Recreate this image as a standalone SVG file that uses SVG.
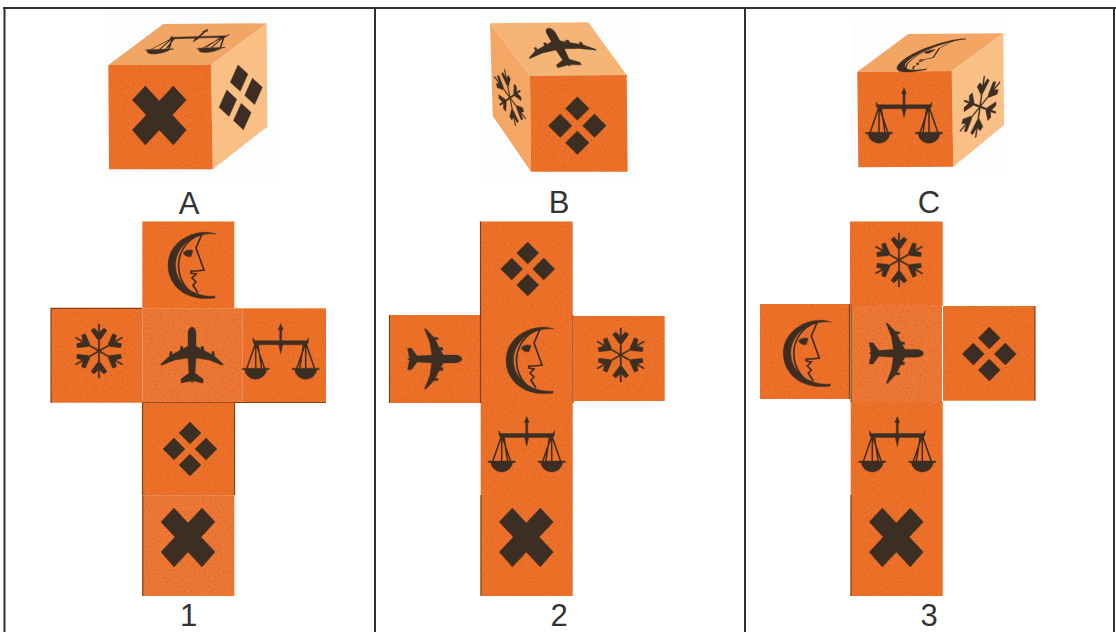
<svg xmlns="http://www.w3.org/2000/svg" width="1116" height="632" viewBox="0 0 1116 632">
<style>
.rule{stroke:#2f2f33;stroke-width:2;fill:none}
.face{fill:#ee742a;filter:url(#grain)}
.face2{fill:#ee7c38;filter:url(#grain)}
.edge{stroke:#7d4314;stroke-width:1.200;fill:none}
.glyph{fill:#3c2e22;stroke:#3c2e22;stroke-width:.4}
.line{fill:none;stroke:#3c2e22}
.pale{fill:#fbfdfe}
.lab{font-family:"Liberation Sans",Arial,sans-serif;font-size:31px;fill:#333;text-anchor:middle}
</style>
<defs>
<filter id="grain" x="0" y="0" width="1" height="1" color-interpolation-filters="sRGB">
<feTurbulence type="fractalNoise" baseFrequency=".7" numOctaves="2" seed="4" result="n"/>
<feColorMatrix in="n" type="matrix" values="0 0 0 0 .87  0 0 0 0 .36  0 0 0 0 .12  1.800 0 0 0 -.72" result="c"/>
<feComposite in="c" in2="SourceGraphic" operator="atop"/>
</filter>
<g id="plane" class="glyph"><path d="M0,-28C2,-28 4,-25 4,-21L4,-9L9,-6L9,-8.500L11.500,-8.500L12,-4.500L20,-.5L20,-3.500L22,-3.500L22.500,1L31,9L31,10.500L17,5L4,3L3,18L11,24L11,28L1,26L0,28L-1,26L-11,28L-11,24L-3,18L-4,3L-17,5L-31,10.500L-31,9L-22.500,1L-22,-3.500L-20,-3.500L-20,-.5L-12,-4.500L-11.500,-8.500L-9,-8.500L-9,-6L-4,-9L-4,-21C-4,-25 -2,-28 0,-28Z"/></g>
<path id="arm" d="M-.7,0L-.7,-11.500L-1.500,-11.500L-8,-20.500L-5,-23L-.7,-19L-.7,-27L.7,-27L.7,-19L5,-23L8,-20.500L1.500,-11.500L.7,-11.500L.7,0Z"/>
<g id="snow" class="glyph"><use href="#arm"/><use href="#arm" transform="rotate(60)"/><use href="#arm" transform="rotate(120)"/><use href="#arm" transform="rotate(180)"/><use href="#arm" transform="rotate(240)"/><use href="#arm" transform="rotate(300)"/></g>
<g id="dia" class="glyph"><path d="M0,-27L11,-16L0,-5L-11,-16Z"/><path d="M-16,-11L-5,0L-16,11L-27,0Z"/><path d="M16,-11L27,0L16,11L5,0Z"/><path d="M0,5L11,16L0,27L-11,16Z"/></g>
<polygon id="cross" class="glyph" points="-14,-29 0,-14 14,-29 27,-15 13,0 27,15 14,30 0,15 -14,30 -27,15 -13,0 -27,-15"/>
<g id="moon">
<path class="glyph" d="M28,-31C8,-38 -20,-24 -20,0C-20,20 -3,37 27,33L27,31C6,33 -12.500,19 -12.500,0C-12.500,-17 4,-33 28,-31Z"/>
<path class="line" d="M14,-31C-2,-26 -9.500,-12 -9.500,0C-9.500,14 -2,26 9,31M14,-31L8,-17L16,5L9,6L3,6L3,8L8,9L4,13L8,17L5,20L10,28" stroke-width="1.700"/>
<path class="glyph" d="M-5,-12C-2,-15.500 2,-15.500 5,-14.500L3,-8.500C0,-7.500 -3,-9 -5,-12Z"/>
</g>
<g id="scales">
<path class="glyph" d="M0,-19L2.500,-13L1,-13L1,-2L26,-2L28,-5L27.500,0L26,2L2,2L0,11L-2,2L-26,2L-27.500,0L-28,-5L-26,-2L-1,-2L-1,-13L-2.500,-13Z"/>
<path class="line" d="M-25,0L-34,26M-25,0L-25,26M-25,0L-16,26M-23,0L-19,26M25,0L34,26M25,0L25,26M25,0L16,26M23,0L19,26" stroke-width="1.500"/>
<path class="glyph" d="M-38.500,25.500L-11.500,25.500L-11.500,27L-14,27C-15,33 -20,36.500 -25,36.500C-30,36.500 -35,33 -36,27L-38.500,27Z"/>
<path class="glyph" d="M11.500,25.500L38.500,25.500L38.500,27L36,27C35,33 30,36.500 25,36.500C20,36.500 15,33 14,27L11.500,27Z"/>
</g>
</defs>
<rect width="1116" height="632" fill="#fff"/>
<g id="table">
<path class="rule" d="M3,8H1116M4.500,8V632M375,8V632M745,8V632M1114,8V632"/>
</g>

<g id="cube-a">
<rect class="pale" x="105" y="10" width="168" height="174"/>
<polygon points="108.300,65 163.300,24 266.700,23.300 211,65" fill="#f2a665"/>
<polygon points="211,65 266.700,23.300 267.300,126.700 212.700,169.300" fill="#f9bf85"/>
<polygon class="face" points="108.300,65 211,65 212.700,169.300 109,169.300"/>
<use href="#cross" transform="translate(159.300,115)"/>
<use href="#dia" transform="matrix(.8,-.37,.1,1.200,240.700,97.300)"/>
<use href="#scales" transform="matrix(1.030,-.03,-.5,.44,198.300,37.300)"/>
</g>
<text class="lab" x="189" y="214">A</text>

<g id="cube-b">
<rect class="pale" x="480" y="15" width="158" height="163"/>
<polygon points="490,23.300 588.300,22.300 626.700,75 530,75.700" fill="#f5b577"/>
<polygon points="490,23.300 530,75.700 531,171.700 492.700,116" fill="#f4a765"/>
<polygon class="face" points="530,75.700 626.700,75 627.700,171.700 531,171.700"/>
<use href="#dia" transform="translate(577.300,125.700) scale(1.070)"/>
<use href="#plane" transform="matrix(1.070,-.134,.38,.68,559,47.300)"/>
<use href="#snow" transform="matrix(.55,.3,.2,1.040,510,97.700)"/>
</g>
<text class="lab" x="559" y="213">B</text>

<g id="cube-c">
<rect class="pale" x="853" y="17" width="154" height="158"/>
<polygon points="857.300,71.700 908.300,34 1003.300,33.300 951.700,71" fill="#f3a564"/>
<polygon points="951.700,71 1003.300,33.300 1004,125 953.300,166.700" fill="#f9bf85"/>
<polygon class="face" points="857.300,71.700 951.700,71 953.300,166.700 858.300,167.300"/>
<use href="#scales" transform="translate(904,106.700)"/>
<use href="#moon" transform="matrix(.91,-.13,-.62,.48,921.500,57.400)"/>
<use href="#snow" transform="matrix(.76,-.4,-.16,1.130,980,106.700)"/>
</g>
<text class="lab" x="929" y="213">C</text>

<g id="net-1">
<g id="n1-top"><rect class="face" x="142.300" y="221.500" width="92" height="87"/><use href="#moon" transform="translate(188,265)"/></g>
<g id="n1-left"><rect class="face" x="51" y="308.300" width="91.300" height="94.400"/><path class="edge" d="M51,403V308.300H142"/><use href="#snow" transform="translate(99,351)"/></g>
<g id="n1-center"><rect class="face2" x="142.300" y="308.300" width="100" height="94.400"/><use href="#plane" transform="translate(192,355)"/></g>
<g id="n1-right"><rect class="face" x="242.300" y="308.300" width="83.700" height="94"/><path class="edge" d="M142,402.500H326"/><use href="#scales" transform="translate(280.700,342.700)"/></g>
<g id="n1-lower"><rect class="face" x="142.300" y="402.700" width="92" height="93"/><path class="edge" d="M142.500,402.700V495M234.500,402.700V495"/><use href="#dia" transform="translate(190,449)"/></g>
<g id="n1-bottom"><rect class="face2" x="142.300" y="495.500" width="92" height="100.500"/><path class="edge" d="M142.800,495.500V596"/><use href="#cross" transform="translate(188,537)"/></g>
</g>
<text class="lab" x="188.500" y="626">1</text>

<g id="net-2">
<g id="n2-top"><rect class="face" x="480" y="221.500" width="92.700" height="93.500"/><path class="edge" d="M480.500,221.500V315"/><use href="#dia" transform="translate(527.700,269)"/></g>
<g id="n2-left"><rect class="face" x="389" y="315" width="91" height="88"/><path class="edge" d="M389.500,315V403"/><use href="#plane" transform="translate(434.700,359) rotate(90) scale(.97)"/></g>
<g id="n2-center"><rect class="face" x="480.500" y="315" width="92.200" height="88"/><path class="edge" d="M480.500,315V403M573,315V403"/><use href="#moon" transform="translate(526,360)"/></g>
<g id="n2-right"><rect class="face" x="573" y="316" width="91.700" height="85"/><use href="#snow" transform="translate(620.700,355)"/></g>
<g id="n2-lower"><rect class="face" x="480.700" y="403" width="92" height="92"/><use href="#scales" transform="translate(526.700,435.500)"/></g>
<g id="n2-bottom"><rect class="face" x="480.700" y="495" width="92" height="101"/><path class="edge" d="M481,495V596"/><use href="#cross" transform="translate(526.300,537)"/></g>
</g>
<text class="lab" x="559" y="626">2</text>

<g id="net-3">
<g id="n3-top"><rect class="face" x="850" y="221.500" width="92.700" height="84"/><use href="#snow" transform="translate(899,260)"/></g>
<g id="n3-left"><rect class="face" x="760" y="304" width="89.500" height="95"/><path class="edge" d="M849.500,304V399"/><use href="#moon" transform="translate(803.300,353)"/></g>
<g id="n3-center"><rect class="face2" x="851" y="305" width="91" height="97"/><path class="edge" d="M851,305V402"/><use href="#plane" transform="translate(896.300,353.300) rotate(90) scale(.97)"/></g>
<g id="n3-right"><rect class="face" x="943" y="306" width="92" height="94.700"/><path class="edge" d="M1035,306V400.700"/><use href="#dia" transform="translate(989.300,354)"/></g>
<g id="n3-lower"><rect class="face" x="850.700" y="402" width="92" height="93"/><use href="#scales" transform="translate(897.300,435.500)"/></g>
<g id="n3-bottom"><rect class="face" x="850.700" y="495" width="92" height="101"/><path class="edge" d="M851,495V596"/><use href="#cross" transform="translate(896.300,537)"/></g>
</g>
<text class="lab" x="929" y="626">3</text>
</svg>
